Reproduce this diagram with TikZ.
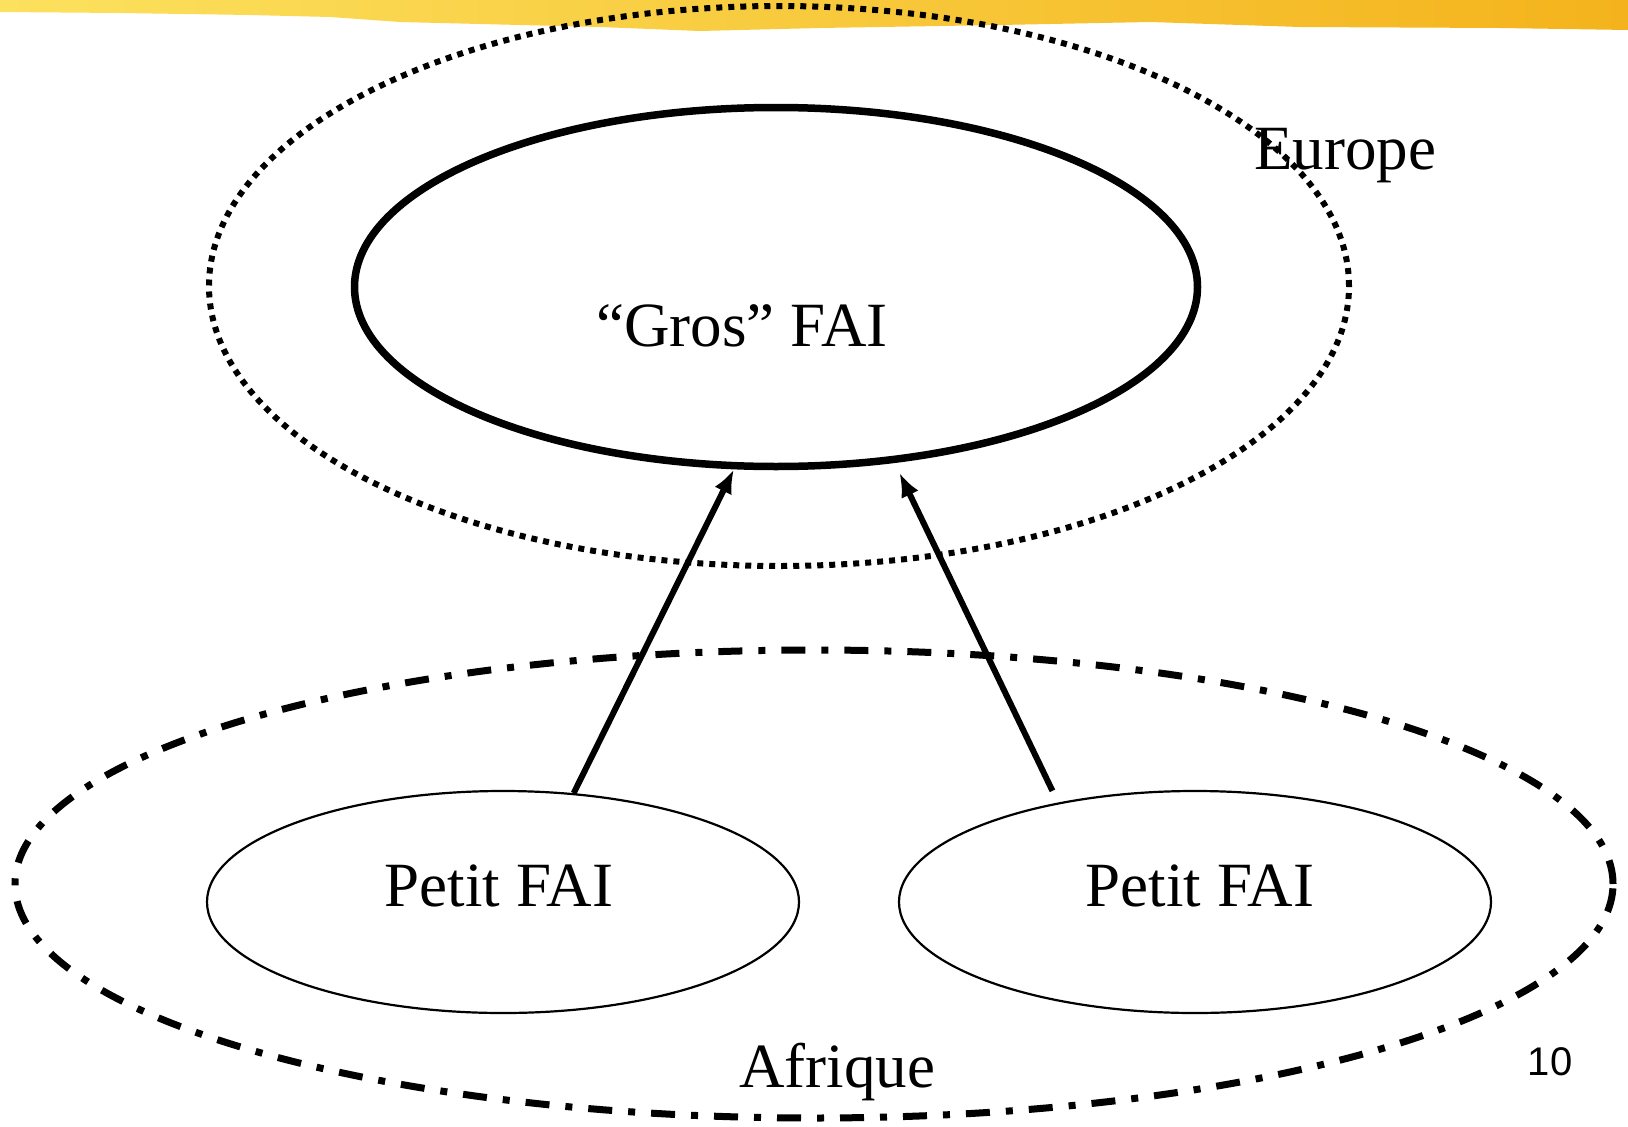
\documentclass[tikz,border=0pt]{standalone}
\usepackage{fontspec}
\setmainfont{Liberation Serif}
\newfontfamily\arialfont{Liberation Sans}
\usetikzlibrary{shapes.geometric,arrows.meta}
\definecolor{bandA}{HTML}{FCE15E}
\definecolor{bandB}{HTML}{F9CC2E}
\definecolor{bandC}{HTML}{F4B31C}
\begin{document}
\begin{tikzpicture}[x=1pt,y=-1pt,
  ell/.style={ellipse, draw, inner sep=0pt},
  lbl/.style={anchor=base, inner sep=0pt, font=\fontsize{63}{70}\selectfont},
  arr/.style={line width=6pt, -{Latex[length=24pt,width=19pt]}}]
\useasboundingbox (0,0) rectangle (1628,1127);
% yellow brush band
\shade[left color=bandA, middle color=bandB, right color=bandC]
  (0,0) -- (1628,0) -- (1628,30) -- (1500,28) -- (1300,27) -- (1150,22)
  -- (1000,25) -- (820,28) -- (700,31) -- (600,27) -- (520,25) -- (400,22)
  -- (330,17) -- (250,15) -- (120,13) -- (0,12) -- cycle;
% ellipses
\node[ell, line width=6pt, dash pattern=on 6pt off 6pt,
      minimum width=1140pt, minimum height=560pt] (eu) at (779,286) {};
\node[ell, line width=7.5pt, minimum width=843pt, minimum height=359pt] (gros) at (776,287) {};
\node[ell, line width=7pt, dash pattern=on 24pt off 16pt on 7pt off 16pt,
      minimum width=1598pt, minimum height=468pt] (af) at (814,884) {};
\node[ell, line width=2.2pt, minimum width=592pt, minimum height=222pt] (p1) at (503,902) {};
\node[ell, line width=2.2pt, minimum width=592pt, minimum height=222pt] (p2) at (1195,902) {};
% arrows
\draw[arr] (p1.57.4) -- (gros.257);
\draw[arr, shorten <=13pt, shorten >=11pt] (p2.144) -- (gros.304);
% labels
\node[lbl] (tgros) at (742,346) {“Gros” FAI};
\node[lbl] (tp1) at (499,906) {Petit FAI};
\node[lbl] (tp2) at (1200,906) {Petit FAI};
\node[lbl] (teu) at (1345,169) {Europe};
\node[lbl] (taf) at (837,1087) {Afrique};
\node[anchor=base, inner sep=0pt, font=\arialfont\fontsize{40}{44}\selectfont] (tnum) at (1550,1075) {10};
\end{tikzpicture}
\end{document}
